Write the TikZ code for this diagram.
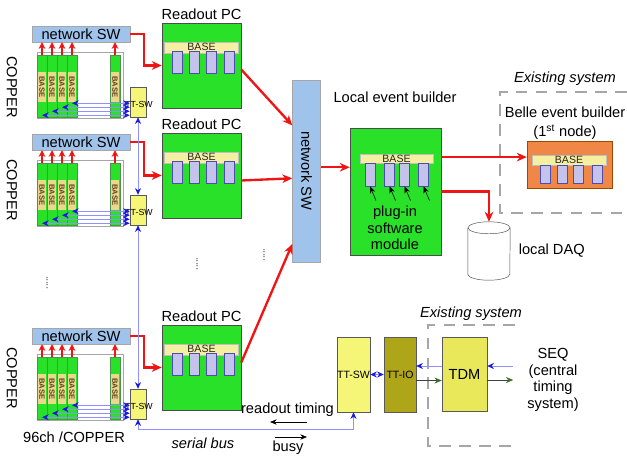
\documentclass[tikz,border=0pt]{standalone}
\usepackage{fontspec}
\setmainfont{Liberation Sans}
\usetikzlibrary{arrows.meta,positioning,calc}
\definecolor{cardgreen}{RGB}{40,225,40}
\definecolor{basey}{RGB}{245,240,160}
\definecolor{slotblue}{RGB}{195,195,235}
\definecolor{swblue}{RGB}{160,195,235}
\definecolor{flowred}{RGB}{240,20,20}
\definecolor{busline}{RGB}{145,145,250}
\definecolor{busblue}{RGB}{25,25,225}
\definecolor{ttyellow}{RGB}{245,245,120}
\definecolor{tdmyellow}{RGB}{232,232,90}
\definecolor{ioolive}{RGB}{175,165,25}
\definecolor{bellorange}{RGB}{240,135,70}
\definecolor{sigreen}{RGB}{60,110,40}
\newcommand\txtL{\fontsize{12.5}{14}\selectfont}
\tikzset{
  >={Stealth[length=2.4mm]},
  wh/.style 2 args={minimum width=#1*0.3mm,minimum height=#2*0.3mm},
  netsw/.style={fill=swblue,draw=gray!70,inner sep=0pt,font=\txtL},
  crate/.style={draw=gray!70,fill=white,inner sep=0pt},
  card/.style={fill=cardgreen,draw=green!40!black!70,inner sep=0pt},
  cardbase/.style={fill=basey!80!brown,inner sep=0pt,text=brown!50!black,
    font=\fontsize{6.5}{7}\selectfont\bfseries,wh={30}{8}},
  pcbox/.style={fill=cardgreen,draw=gray!60!black,inner sep=0pt},
  basebar/.style={fill=basey,draw=gray!50,inner sep=0pt,text=gray!30!black,
    font=\fontsize{9}{10}\selectfont},
  slot/.style={fill=slotblue,draw=gray!60!blue,inner sep=0pt},
  ttbox/.style={fill=#1,draw=gray!70!black,inner sep=0pt,font=\fontsize{9}{10}\selectfont},
  tag/.style={inner sep=0pt,font=\txtL,align=center},
  flow/.style={->,draw=flowred,line width=2pt,>={Stealth[length=3mm,width=2.6mm]}},
  up/.style={->,draw=flowred,line width=1.5pt,>={Stealth[length=2mm,width=2mm]}},
  bus/.style={draw=busline,line width=0.8pt,>={Stealth[length=2mm,width=1.8mm,color=busblue]}},
  sig/.style={->,draw=gray!50!black,line width=0.5pt,>={Stealth[length=2.2mm,width=1.8mm,color=sigreen]}},
  thinarr/.style={->,draw=black,line width=0.5pt,>={Stealth[length=2mm,width=1.6mm]}},
  fence/.style={draw=gray!70,line width=0.9pt,dash pattern=on 10pt off 7pt},
}

\begin{document}
\begin{tikzpicture}[x=0.3mm,y=-0.3mm]
  \useasboundingbox (0,0) rectangle (627,463);
  % COPPER crates and readout PCs
  \foreach \dy/\cy/\pcy [count=\i] in {0/87/23,108/190/133,302/378/325}{
    \node[crate,wh={86}{66}] (cr\i) at (80,\dy+85) {};
    \node[netsw,wh={98}{16}] (sw\i) at (81,\dy+34) {network SW};
    \foreach \cx [count=\j] in {42,52,62,72,115}{
      \node[card,wh={10}{62}] (cd\i\j) at (\cx,\dy+86) {};
      \node[cardbase,rotate=-90] at ($(cd\i\j)+(0,1)$) {BASE};
      \draw[up] (cd\i\j.north) -- (cd\i\j.north |- sw\i.south);
    }
    \node[ttbox=ttyellow,wh={16}{30}] (tt\i) at (138,\dy+102) {};
    \node[inner sep=0pt,font=\fontsize{7.5}{8}\selectfont] (ttl\i) at (139,\dy+104) {TT-SW};
    \foreach \j in {1,...,4}{
      \coordinate (b\i\j) at ($(tt\i.south west)+(0,{-2-4*(\j-1)})$);
      \draw[bus,<->] (b\i\j) -- (b\i\j -| cd\i\j.center);
    }
    \node[tag,rotate=-90] (cu\i) at (12,\cy) {COPPER};
    \node[pcbox,wh={79}{85}] (pc\i) at (201.5,\pcy+42.5) {};
    \node[tag,above=0.8mm of pc\i] (pcl\i) {Readout PC};
    \node[basebar,wh={74}{11}] (bb\i) at ($(pc\i.north)+(0,24.5)$) {BASE};
    \foreach \sx [count=\k] in {-24.5,-7,9.5,28}
      \node[slot,wh={10}{22}] (sl\i\k) at ($(bb\i.south)+(\sx,9)$) {};
    \draw[flow] (sw\i.east) -- ++(14,0) |- (pc\i.west);
  }
  \draw[bus,<->] (tt1.south) -- (tt2.north);
  \draw[bus,<->] (tt2.south) -- (tt3.north);
  \foreach \x/\y in {47/283,197/264,264/255}
    \node[rotate=90,inner sep=0pt,font=\fontsize{8}{8}\selectfont] at (\x,\y) {.....};

  % central switch and local event builder
  \node[netsw,wh={28}{182}] (nsw) at (306.5,171) {};
  \node[tag,rotate=-90] at (nsw) {network SW};
  \draw[flow] ($(pc1.east)+(0,4)$) -- ($(nsw.north west)!0.25!(nsw.south west)$);
  \draw[flow] ($(pc2.east)+(0,5)$) -- ($(nsw.north west)!0.54!(nsw.south west)$);
  \draw[flow] ($(pc3.east)+(0,-5)$) -- ($(nsw.north west)!0.9!(nsw.south west)$);
  \node[pcbox,wh={91}{127}] (leb) at (395.5,191.5) {};
  \node[tag] (lebl) at (395,97) {Local event builder};
  \node[basebar,wh={73}{9}] (lbb) at (396.5,159) {BASE};
  \foreach \sx [count=\k] in {-26.5,-7,8,27}
    \node[slot,wh={10}{23}] (ls\k) at ($(lbb.south)+(\sx,11)$) {};
  \node[tag] (plug) at (395,228) {plug-in\\software\\module};
  \foreach \k in {1,...,4}
    \draw[thinarr] ($(ls\k.south)+(6,14)$) -- (ls\k.south);
  \coordinate (l1) at ($(leb.north west)!0.31!(leb.south west)$);
  \draw[flow] (nsw.east |- l1) -- (l1);

  % Belle event builder
  \node[tag,font=\txtL\itshape] (ex1) at (565,79) {Existing system};
  \draw[fence] (627,92) -- (500,92) -- (500,213) -- (627,213);
  \node[tag] (bebl) at (565,112) {Belle event builder};
  \node[tag] (bebn) at (565,132) {(1\textsuperscript{st} node)};
  \node[fill=bellorange,draw=orange!60!black,inner sep=0pt,wh={85}{47}] (beb) at (569.5,164.5) {};
  \node[basebar,wh={74}{10}] (bbb) at (569,160) {BASE};
  \foreach \sx in {-24,-7,9,28}
    \node[slot,wh={10}{18}] at ($(bbb.south)+(\sx,9)$) {};
  \coordinate (l2) at ($(leb.north east)!0.23!(leb.south east)$);
  \draw[flow] (l2) -- (l2 -| beb.west);

  % local DAQ
  \node[wh={42}{58},inner sep=0pt] (daq) at (489,251) {};
  \draw[gray!60!black,fill=white] ($(daq.north west)+(0,6)$) -- ($(daq.south west)+(0,-6)$)
    arc (180:0:21 and 6) -- ($(daq.north east)+(0,6)$);
  \draw[gray!60!black,fill=white] ($(daq.north)+(0,6)$) ellipse (21 and 6);
  \node[tag,right=2.5mm of daq] (daql) {local DAQ};
  \coordinate (l3) at ($(leb.north east)!0.5!(leb.south east)$);
  \draw[flow] (l3) -| (daq.north);

  % timing distribution
  \node[tag,font=\txtL\itshape] (ex2) at (471,314) {Existing system};
  \draw[fence] (515,325) -- (428,325) -- (428,446) -- (515,446);
  \node[ttbox=ttyellow,wh={33}{75}] (ttsw) at (353.5,374.5) {TT-SW};
  \node[ttbox=ioolive,wh={32}{75}] (ttio) at (400,374.5) {TT-IO};
  \node[ttbox=tdmyellow,wh={45}{74},font=\txtL] (tdm) at (464.5,374) {TDM};
  \node[tag] (seq) at (553,380) {SEQ\\(central\\timing\\system)};
  \draw[bus,<->] (ttsw) -- (ttio);
  \coordinate (t1) at ($(tdm.west)+(0,-8)$);
  \draw[bus,->] (t1) -- (t1 -| ttio.east);
  \coordinate (t2) at ($(ttio.east)+(0,6)$);
  \draw[sig] (t2) -- (t2 -| tdm.west);
  \coordinate (s1) at ($(tdm.east)+(26,-8)$);
  \draw[bus,->] (s1) -- (s1 -| tdm.east);
  \coordinate (s2) at ($(tdm.east)+(26,6)$);
  \draw[sig] (tdm.east |- s2) -- (s2);
  \coordinate (busc) at (138,429);
  \draw[bus,<->] (tt3.south) -- (busc) -| (ttsw.south);

  \node[tag] (rt) at (287.5,410) {readout timing};
  \coordinate (rta) at (307,422);
  \coordinate (rtb) at (270,422);
  \draw[thinarr] (rta) -- (rtb);
  \node[tag] (busy) at (288,448) {busy};
  \coordinate (bya) at (275,437);
  \coordinate (byb) at (307,437);
  \draw[thinarr] (bya) -- (byb);
  \node[tag,font=\txtL\itshape] (sbus) at (203,443) {serial bus};
  \node[tag] (cnt) at (74,437) {96ch /COPPER};
\end{tikzpicture}
\end{document}
